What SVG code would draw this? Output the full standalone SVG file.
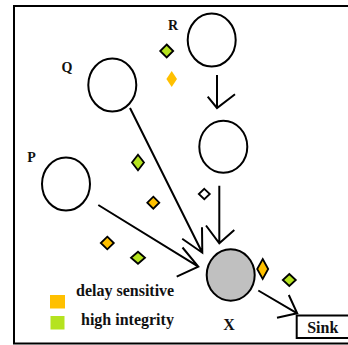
<svg xmlns="http://www.w3.org/2000/svg" width="348" height="345" viewBox="0 0 348 345">
<style>
.node{fill:#fff;stroke:#000;stroke-width:2}
.lbl{font-family:"Liberation Serif",serif;font-weight:bold;fill:#111}
.ln{stroke:#000;stroke-width:2;fill:none}
.g{fill:#b5e31f;stroke:#000;stroke-width:1.8}
.y{fill:#ffc000;stroke:#000;stroke-width:1.8}
.w{fill:#fff;stroke:#000;stroke-width:1.8}
</style>
<rect x="14" y="6" width="340" height="337.5" fill="#fff" stroke="#000" stroke-width="2"/>
<g id="R"><ellipse class="node" cx="211.7" cy="40" rx="24" ry="26.5"/><text class="lbl" x="173" y="30" font-size="14" text-anchor="middle">R</text></g>
<g id="Q"><ellipse class="node" cx="112.3" cy="85" rx="24" ry="26.5"/><text class="lbl" x="67" y="72" font-size="14" text-anchor="middle">Q</text></g>
<g id="M"><ellipse class="node" cx="223.3" cy="146.7" rx="24" ry="26"/></g>
<g id="P"><ellipse class="node" cx="66" cy="184" rx="24" ry="26.5"/><text class="lbl" x="31.5" y="162" font-size="14" text-anchor="middle">P</text></g>
<g id="X"><ellipse cx="230.7" cy="275" rx="24" ry="25.7" fill="#c0c0c0" stroke="#000" stroke-width="2"/><text class="lbl" x="229" y="330" font-size="16" text-anchor="middle">X</text></g>
<g id="Sink"><rect x="296.7" y="315.5" width="60" height="22.5" fill="#fff" stroke="#000" stroke-width="2"/><text class="lbl" x="322.8" y="332.5" font-size="16" text-anchor="middle">Sink</text></g>
<g id="connectors" class="ln">
<path d="M217 75V108M207.7 96.7L217 108L235 94.3"/>
<path d="M219.3 185.7V243.3M206 225.5L219.3 243.3L234.3 230"/>
<path d="M130 108L202.3 252.7M182.2 238.8L202.3 252.7L202 227.3"/>
<path d="M98.3 205L198.3 266.7M182.5 247.5L198.3 266.7L176.7 276.7"/>
<path d="M258.3 290.5L297.2 313.3M288.8 295L297.2 313.3L277 317.8"/>
</g>
<g id="packets">
<path class="g" d="M166.7 44.5L173.2 51L166.7 57.5L160.2 51Z"/>
<path d="M171.7 71L177 79L171.7 87L166.4 79Z" fill="#ffc000"/>
<path class="g" d="M138 154.7L144 162.5L138 170.3L132 162.5Z"/>
<path class="y" d="M153.3 196.7L159.3 202.7L153.3 208.7L147.3 202.7Z"/>
<path class="w" d="M204.3 188.8L209.8 194L204.3 199.2L198.8 194Z"/>
<path class="y" d="M107.3 236.7L113.8 243L107.3 249.3L100.8 243Z"/>
<path class="g" d="M138 251.8L145 257.8L138 263.8L131 257.8Z"/>
<path class="y" d="M262.7 259L268.2 269L262.7 279L257.2 269Z"/>
<path class="g" d="M289.3 274L295.8 280L289.3 286L282.8 280Z"/>
</g>
<g id="legend">
<rect x="50" y="295" width="15" height="13.5" fill="#ffc000"/>
<rect x="50.5" y="316" width="14" height="13.5" fill="#b5e31f"/>
<text class="lbl" x="76" y="296" font-size="16">delay sensitive</text>
<text class="lbl" x="81" y="325" font-size="16">high integrity</text>
</g>
</svg>
